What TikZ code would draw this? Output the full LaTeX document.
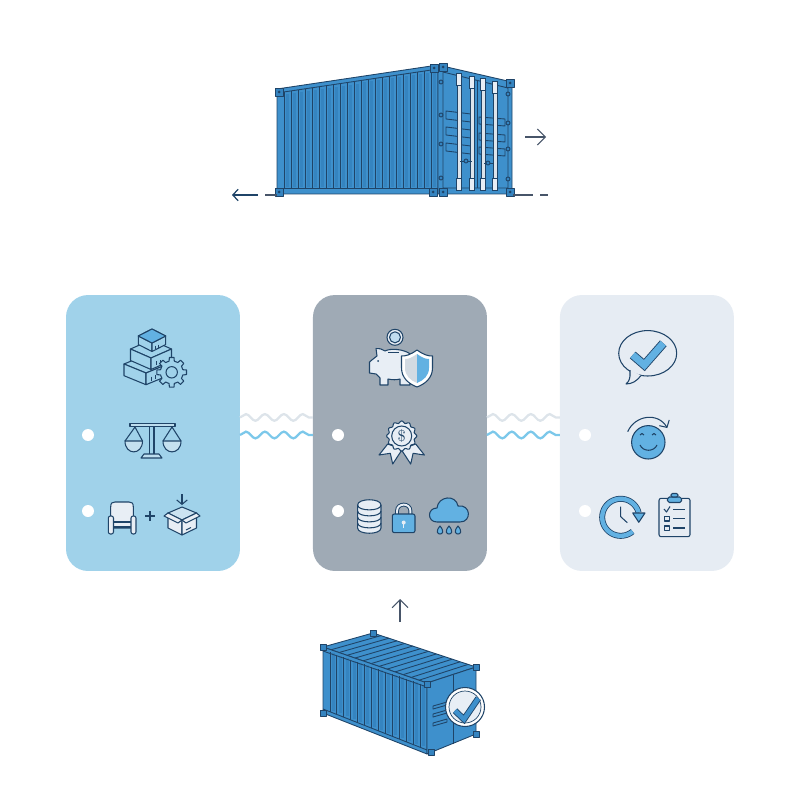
\documentclass[tikz,border=0pt]{standalone}
\usepackage{tikz}
\usetikzlibrary{arrows.meta,positioning,calc,decorations.pathmorphing}
\definecolor{inkblue}{HTML}{1F4468}
\definecolor{steelbody}{HTML}{3E90CC}
\definecolor{steelrib}{HTML}{3584C0}
\definecolor{skypanel}{HTML}{A0D2EA}
\definecolor{slatepanel}{HTML}{9FAAB5}
\definecolor{mistpanel}{HTML}{E6ECF3}
\definecolor{iconblue}{HTML}{62B1E2}
\definecolor{iconpale}{HTML}{E8EEF5}
\definecolor{wavyblue}{HTML}{7CC8EA}
\definecolor{wavygray}{HTML}{DDE4EA}
\definecolor{arrowgray}{HTML}{475569}
\tikzset{>={Straight Barb[length=4.5pt,width=9pt]}}
\tikzset{
  card/.style={minimum width=3.48cm,minimum height=5.52cm,rounded corners=0.44cm,inner sep=0pt,outer sep=0pt},
  holedot/.style={circle,fill=white,minimum size=0.24cm,inner sep=0pt},
  iconline/.style={draw=inkblue,line width=0.6pt,line join=round},
  steelline/.style={draw=inkblue,line width=0.5pt,line join=round},
  flowarrow/.style={->,draw=arrowgray,line width=0.6pt},
  wavelink/.style={decorate,decoration={snake,amplitude=1.9pt,segment length=10.8pt},line width=1.3pt}
}
\newcommand{\cornerfit}[2]{
  \draw [steelline,fill=steelrib] (#1-4,#2-4) rectangle (#1+4,#2+4);
  \fill [inkblue] (#1,#2) circle (1.5);
}
\newcommand{\isobox}[5]{
  \draw [iconline,fill=skypanel] (#1-#3,#2) -- (#1,#2-#4) -- (#1+#3,#2) -- (#1,#2+#4) -- cycle;
  \draw [iconline,fill=skypanel] (#1-#3,#2) -- (#1,#2+#4) -- (#1,#2+#4+#5) -- (#1-#3,#2+#5) -- cycle;
  \draw [iconline,fill=skypanel] (#1+#3,#2) -- (#1,#2+#4) -- (#1,#2+#4+#5) -- (#1+#3,#2+#5) -- cycle;
  \draw [iconline] (#1+#3*0.25,#2+#4+#5*0.3) -- ++(0,#5*0.35) (#1+#3*0.45,#2+#4+#5*0.2) -- ++(0,#5*0.35);
}
\begin{document}
\begin{tikzpicture}[x=0.02cm,y=-0.02cm]
    \useasboundingbox (0,0) rectangle (800,800);

    \node [card,fill=skypanel] (leftcard) at (153,433) {};
    \node [card,fill=slatepanel,right=1.46cm of leftcard] (midcard) {};
    \node [card,fill=mistpanel,right=1.46cm of midcard] (rightcard) {};
    \node [holedot] (leftdotup) at (88,435) {};
    \node [holedot] (leftdotlow) at (88,511) {};
    \node [holedot] (middotup) at (338,435) {};
    \node [holedot] (middotlow) at (338,511) {};
    \node [holedot] (rightdotup) at (585,435) {};
    \node [holedot] (rightdotlow) at (585,511) {};

    \draw [wavelink,draw=wavygray] ([yshift=10pt]leftcard.east |- leftdotup) -- ([yshift=10pt]midcard.west |- leftdotup);
    \draw [wavelink,draw=wavyblue] (leftcard.east |- leftdotup) -- (midcard.west |- leftdotup);
    \draw [wavelink,draw=wavygray] ([yshift=10pt]midcard.east |- leftdotup) -- ([yshift=10pt]rightcard.west |- leftdotup);
    \draw [wavelink,draw=wavyblue] (midcard.east |- leftdotup) -- (rightcard.west |- leftdotup);

    \coordinate (sidelt) at (277,89);
    \coordinate (sidert) at (438,65);
    \coordinate (sidelb) at (277,194);
    \coordinate (siderb) at (438,194);
    \coordinate (doorrt) at (512,82);
    \coordinate (doorrb) at (512,194);
    \draw [steelline,fill=steelbody] (sidelt) -- (sidert) -- (siderb) -- (sidelb) -- cycle;
    \foreach \i in {1,...,22} {
      \draw [steelrib,line width=1.7pt] ($(sidelt)!\i/23!(sidert)+(3.5,6)$) -- ($(sidelb)!\i/23!(siderb)+(3.5,-7)$);
      \draw [steelline] ($(sidelt)!\i/23!(sidert)+(0,4)$) -- ($(sidelb)!\i/23!(siderb)+(0,-6)$);
    }
    \draw [steelline] ($(sidelb)+(0,-6)$) -- ($(siderb)+(0,-6)$);
    \draw [steelline] ($(sidelt)+(0,4)$) -- ($(sidert)+(0,4)$);
    \draw [steelline,fill=steelbody] (sidert) -- (doorrt) -- (doorrb) -- (siderb) -- cycle;
    \draw [steelline] (443,72) -- (508,88) -- (508,188) -- (443,188) -- cycle;
    \draw [steelline] (477,80) -- (477,188);
    \foreach \y in {111,127,143} \draw [steelline] (446,\y) -- (471,\y+3) -- (471,\y+11) -- (446,\y+8) -- cycle;
    \foreach \y in {117,133,147} \draw [steelline] (479,\y) -- (505,\y+2) -- (505,\y+9) -- (479,\y+7) -- cycle;
    \foreach \x/\y in {459/73,472/76,483/78,495/81} {
      \draw [draw=inkblue,line width=0.35pt,fill=iconpale!85!slatepanel] (\x-1.8,\y) rectangle (\x+1.8,190);
      \draw [draw=inkblue,line width=0.35pt,fill=iconpale] (\x-2.3,\y) rectangle (\x+2.3,\y+12);
      \draw [draw=inkblue,line width=0.35pt,fill=iconpale] (\x-2.3,178) rectangle (\x+2.3,190);
    }
    \foreach \x/\y in {441/82,441/115,441/144,441/178,508/94,508/123,508/149,508/179}
      \draw [steelline,fill=steelrib] (\x,\y) circle (2);
    \draw [steelline] (460,161) -- (472,161) (484,163) -- (494,163);
    \draw [steelline,fill=steelrib] (466,161) circle (2) (488,163) circle (2);
    \foreach \x/\y in {279/92,434/68,443/67,510/83,279/192,433/192,443/192,510/192} {
      \cornerfit{\x}{\y}
    }

    \coordinate (exitfrom) at (525,137);
    \coordinate (exitto) at (546,137);
    \coordinate (railfrom) at (258,195);
    \coordinate (railto) at (232,195);
    \draw [flowarrow] (exitfrom) -- (exitto);
    \draw [->,>={Straight Barb[length=3pt,width=6.5pt]},draw=inkblue,line width=0.7pt] (railfrom) -- (railto);
    \draw [arrowgray,line width=0.7pt] (265,195) -- (sidelb |- 0,195);
    \draw [arrowgray,line width=0.7pt] (513,195) -- (533,195);
    \draw [arrowgray,line width=0.7pt] (540,195) -- (548,195);

    \isobox{146}{364}{22}{9}{11.7}
    \isobox{151}{349}{20.5}{9}{11.5}
    \isobox{152}{336}{13.7}{7}{8.5}
    \draw [iconline,fill=iconblue] (138.3,336) -- (152,329) -- (165.7,336) -- (152,343) -- cycle;
    \begin{scope}[shift={(171.7,372.3)}]
      \draw [iconline,fill=skypanel] (-13:11.5) \foreach \a in {0,45,...,315} { -- (\a-13:11.5) -- (\a-9:15) -- (\a+9:15) -- (\a+13:11.5) } -- cycle;
      \draw [iconline] (0,0) circle (5.7);
    \end{scope}

    \draw [iconline,fill=iconpale!40!skypanel] (130,423.5) rectangle (175,426.5);
    \draw [iconline] (149.5,426.5) -- (149.5,454) (154,426.5) -- (154,454);
    \draw [iconline,fill=iconpale!40!skypanel] (141,458) -- (144,454) -- (159,454) -- (162,458) -- cycle;
    \draw [iconline] (125,441) -- (135,427) -- (142.5,441) (163,441) -- (172,427) -- (181,441);
    \draw [iconline,fill=iconpale!50!skypanel] (125,441) .. controls (125,455.5) and (142.5,455.5) .. (142.5,441) -- cycle;
    \draw [iconline,fill=iconpale!50!skypanel] (163,441) .. controls (163,455.5) and (181,455.5) .. (181,441) -- cycle;

    \draw [iconline,fill=iconpale] (110.7,528) -- (110.7,507) .. controls (110.7,503) and (112,502) .. (115,502) -- (129,502) .. controls (132,502) and (133.3,503) .. (133.3,507) -- (133.3,528) -- cycle;
    \draw [iconline] (113,522) -- (131,522) (113,527) -- (131,527);
    \draw [iconline,fill=iconpale,rounded corners=1.2pt] (108.3,516) rectangle (113.5,534);
    \draw [iconline,fill=iconpale,rounded corners=1.2pt] (131,516) rectangle (136,534);
    \draw [iconline] (145,516) -- (155,516) (150,511) -- (150,521);
    \draw [iconline,fill=iconpale] (168,513) -- (182,520) -- (182,535) -- (168,528) -- cycle;
    \draw [iconline,fill=iconpale] (196.5,513) -- (182,520) -- (182,535) -- (196.5,528) -- cycle;
    \draw [iconline,fill=iconpale!60!skypanel] (168,513) -- (182,507) -- (196.5,513) -- (182,520) -- cycle;
    \draw [iconline,fill=iconpale] (168,513) -- (164,516) -- (178,523) -- (182,520) -- cycle;
    \draw [iconline,fill=iconpale] (196.5,513) -- (200,516) -- (186,523) -- (182,520) -- cycle;
    \draw [iconline] (186,530) -- (191,527.5);
    \coordinate (dropfrom) at (182,494);
    \coordinate (dropto) at (182,505);
    \draw [->,>={Straight Barb[length=2.5pt,width=6pt]},iconline] (dropfrom) -- (dropto);

    \draw [iconline,fill=iconpale] (395,337.3) circle (8);
    \draw [iconline,fill=iconblue!30!iconpale] (395,337.3) circle (5.5);
    \draw [iconline,fill=iconpale] (369.5,362) -- (369.5,373) -- (376,374) -- (380,378) -- (380,385) -- (388,385) -- (388,379) .. controls (393,380) and (396,380) .. (400,379) -- (400,385) -- (410,385) -- (410,378) .. controls (420,370) and (420,352) .. (397,349.5) .. controls (392,349) and (388,349.5) .. (385,351) .. controls (382,349) and (379,348) .. (376,348.5) -- (377,356) .. controls (374,358) and (372,360) .. (369.5,362) -- cycle;
    \draw [iconline] (388,352.5) -- (399,352.5);
    \fill [inkblue] (378,361) circle (1);
    \draw [iconline,fill=white] (417,350) .. controls (424,355) and (428,356) .. (432.5,356) -- (432.5,368) .. controls (432.5,378) and (425,384) .. (417,387) .. controls (409,384) and (401.5,378) .. (401.5,368) -- (401.5,356) .. controls (406,356) and (410,355) .. (417,350) -- cycle;
    \fill [iconpale!70!slatepanel] (417,354) .. controls (412,357.5) and (409,359) .. (405,359) -- (405,368) .. controls (405,375.5) and (410.5,380.5) .. (417,383) -- cycle;
    \fill [iconblue] (417,354) .. controls (422,357.5) and (425,359) .. (429,359) -- (429,368) .. controls (429,375.5) and (423.5,380.5) .. (417,383) -- cycle;

    \draw [iconline,fill=iconpale] (387.7,444) -- (379,455) -- (390.3,453.3) -- (392.7,464) -- (402.3,449.3) -- cycle;
    \draw [iconline,fill=iconpale] (415.7,444) -- (424.4,455) -- (413.1,453.3) -- (410.7,464) -- (401.1,449.3) -- cycle;
    \draw [iconline,fill=iconpale] plot [domain=0:360,samples=73,smooth] ({401.7+(14+1.1*cos(12*\x))*cos(\x)},{436+(14+1.1*cos(12*\x))*sin(\x)}) -- cycle;
    \draw [iconline,fill=iconpale] (401.7,436) circle (10);
    \node [text=inkblue,inner sep=0pt,font=\fontsize{9}{9}\selectfont] (dollarsign) at (401.7,436) {\$};

    \draw [iconline,fill=iconpale] (357.6,505) -- (357.6,528) .. controls (357.6,535) and (381,535) .. (381,528) -- (381,505) .. controls (381,498) and (357.6,498) .. (357.6,505) -- cycle;
    \foreach \y in {505,511,517,523}
      \draw [iconline] (357.6,\y) .. controls (357.6,\y+6.5) and (381,\y+6.5) .. (381,\y);
    \draw [inkblue,line width=2.2pt] (397,514) -- (397,511) .. controls (397,502.5) and (410.4,502.5) .. (410.4,511) -- (410.4,514);
    \draw [iconpale,line width=1.1pt] (397,514) -- (397,511) .. controls (397,502.5) and (410.4,502.5) .. (410.4,511) -- (410.4,514);
    \draw [iconline,fill=iconblue,rounded corners=1.2pt] (392.3,514) rectangle (415,532.7);
    \fill [iconpale] (403.7,522.5) circle (2);
    \draw [iconpale,line width=0.8pt] (403.7,522.5) -- (403.7,528);
    \draw [iconline,fill=iconblue] (437,522) .. controls (427,522) and (427,508) .. (437,508) .. controls (438,496) and (456,494) .. (458,506) .. controls (471,504) and (472,522) .. (460,522) -- cycle;
    \foreach \x in {440,449,458}
      \draw [iconline,fill=iconblue] (\x,526) .. controls (\x+5,532) and (\x+2,534) .. (\x,534) .. controls (\x-2,534) and (\x-5,532) .. (\x,526) -- cycle;

    \draw [iconline,fill=mistpanel] (647.7,353.3) ellipse [x radius=29,y radius=22.7];
    \draw [iconline,fill=mistpanel] (630,370) -- (630,376) .. controls (629.5,380) and (628,383) .. (626,384) .. controls (632,384) and (637,381) .. (641,375.5);
    \draw [inkblue,line width=5pt] (632.7,355) -- (644.3,365) -- (663.3,343.3);
    \draw [iconblue,line width=4pt] (632.7,355) -- (644.3,365) -- (663.3,343.3);

    \draw [iconline,fill=iconblue] (648.3,442.3) circle (16.7);
    \draw [iconline] (640,435) .. controls (641,433) and (643,433) .. (644,435) (652,435) .. controls (653,433) and (655,433) .. (656,435);
    \draw [iconline] (640,445) .. controls (643,452) and (654,452) .. (657,445);
    \coordinate (turnfrom) at (627.7,431.7);
    \coordinate (turnto) at (667.3,428);
    \draw [->,>={Straight Barb[length=3pt,width=6.5pt]},iconline] (turnfrom) .. controls (635,415) and (658,412) .. (turnto);

    \draw [inkblue,line width=3.4pt] plot [domain=50:345,samples=60,smooth] ({620.7+18.5*cos(\x)},{517.3+18.5*sin(\x)});
    \draw [iconblue,line width=2.5pt] plot [domain=50:345,samples=60,smooth] ({620.7+18.5*cos(\x)},{517.3+18.5*sin(\x)});
    \draw [iconline,fill=iconblue] (632.7,513) -- (645,513) -- (638.8,522.3) -- cycle;
    \draw [iconline] (620.7,506.7) -- (620.7,516.7) -- (627.3,522.7);

    \draw [iconline,fill=mistpanel,rounded corners=1.2pt] (659,498.3) rectangle (690,536.7);
    \draw [iconline,fill=iconblue,rounded corners=1pt] (667.5,497) rectangle (681.5,502.5);
    \draw [iconline,fill=iconblue,rounded corners=0.8pt] (671,493.5) rectangle (678,497);
    \draw [iconline] (664,509) -- (666.5,512) -- (670,506.5);
    \draw [iconline] (664.5,516.5) rectangle (669.5,521) (664.5,526) rectangle (669.5,530.5);
    \foreach \y in {509.3,518.7,528}
      \draw [iconline] (673,\y) -- (685,\y);

    \coordinate (liftfrom) at (400,622);
    \coordinate (liftto) at (400,599);
    \draw [flowarrow] (liftfrom) -- (liftto);

    \coordinate (boxlt) at (323,647);
    \coordinate (boxbk) at (373,633);
    \coordinate (boxrt) at (476,667);
    \coordinate (boxft) at (427,683);
    \coordinate (boxfb) at (427,754);
    \coordinate (boxlb) at (323,713);
    \coordinate (boxrb) at (476,734);
    \draw [steelline,fill=steelbody] (boxlt) -- (boxbk) -- (boxrt) -- (boxft) -- cycle;
    \foreach \i in {1,...,12}
      \draw [steelline] ($(boxlt)!\i/13!(boxft)$) -- ($(boxbk)!\i/13!(boxrt)$);
    \draw [steelline,fill=steelbody] (boxlt) -- (boxft) -- (boxfb) -- (boxlb) -- cycle;
    \foreach \i in {1,...,14} {
      \draw [steelrib,line width=1.7pt] ($(boxlt)!\i/15!(boxft)+(3.3,4)$) -- ($(boxlb)!\i/15!(boxfb)+(3.3,-5)$);
      \draw [steelline] ($(boxlt)!\i/15!(boxft)+(0,3)$) -- ($(boxlb)!\i/15!(boxfb)+(0,-4)$);
    }
    \draw [steelline] ($(boxlt)+(0,4)$) -- ($(boxft)+(0,4)$) ($(boxlb)+(0,-4)$) -- ($(boxfb)+(0,-4)$);
    \draw [steelline,fill=steelbody] (boxft) -- (boxrt) -- (boxrb) -- (boxfb) -- cycle;
    \draw [steelline] (453,675) -- (453,744);
    \foreach \y in {706,714,723}
      \draw [steelline] (433,\y) -- (447,\y-4) -- (447,\y-1) -- (433,\y+3) -- cycle;
    \foreach \x/\y in {323/647,373/633,476/667,427/684,431/752,323/713,476/734}
      \draw [steelline,fill=steelrib] (\x-3,\y-3) rectangle (\x+3,\y+3);
    \draw [iconline,fill=white] (465,707) circle (19.5);
    \draw [line width=0.4pt,draw=inkblue,fill=iconpale] (465,707) circle (16);
    \draw [inkblue,line width=3.6pt] (455,710.7) -- (464,719.3) -- (478.3,698.3);
    \draw [steelbody,line width=2.6pt] (455,710.7) -- (464,719.3) -- (478.3,698.3);
\end{tikzpicture}
\end{document}
